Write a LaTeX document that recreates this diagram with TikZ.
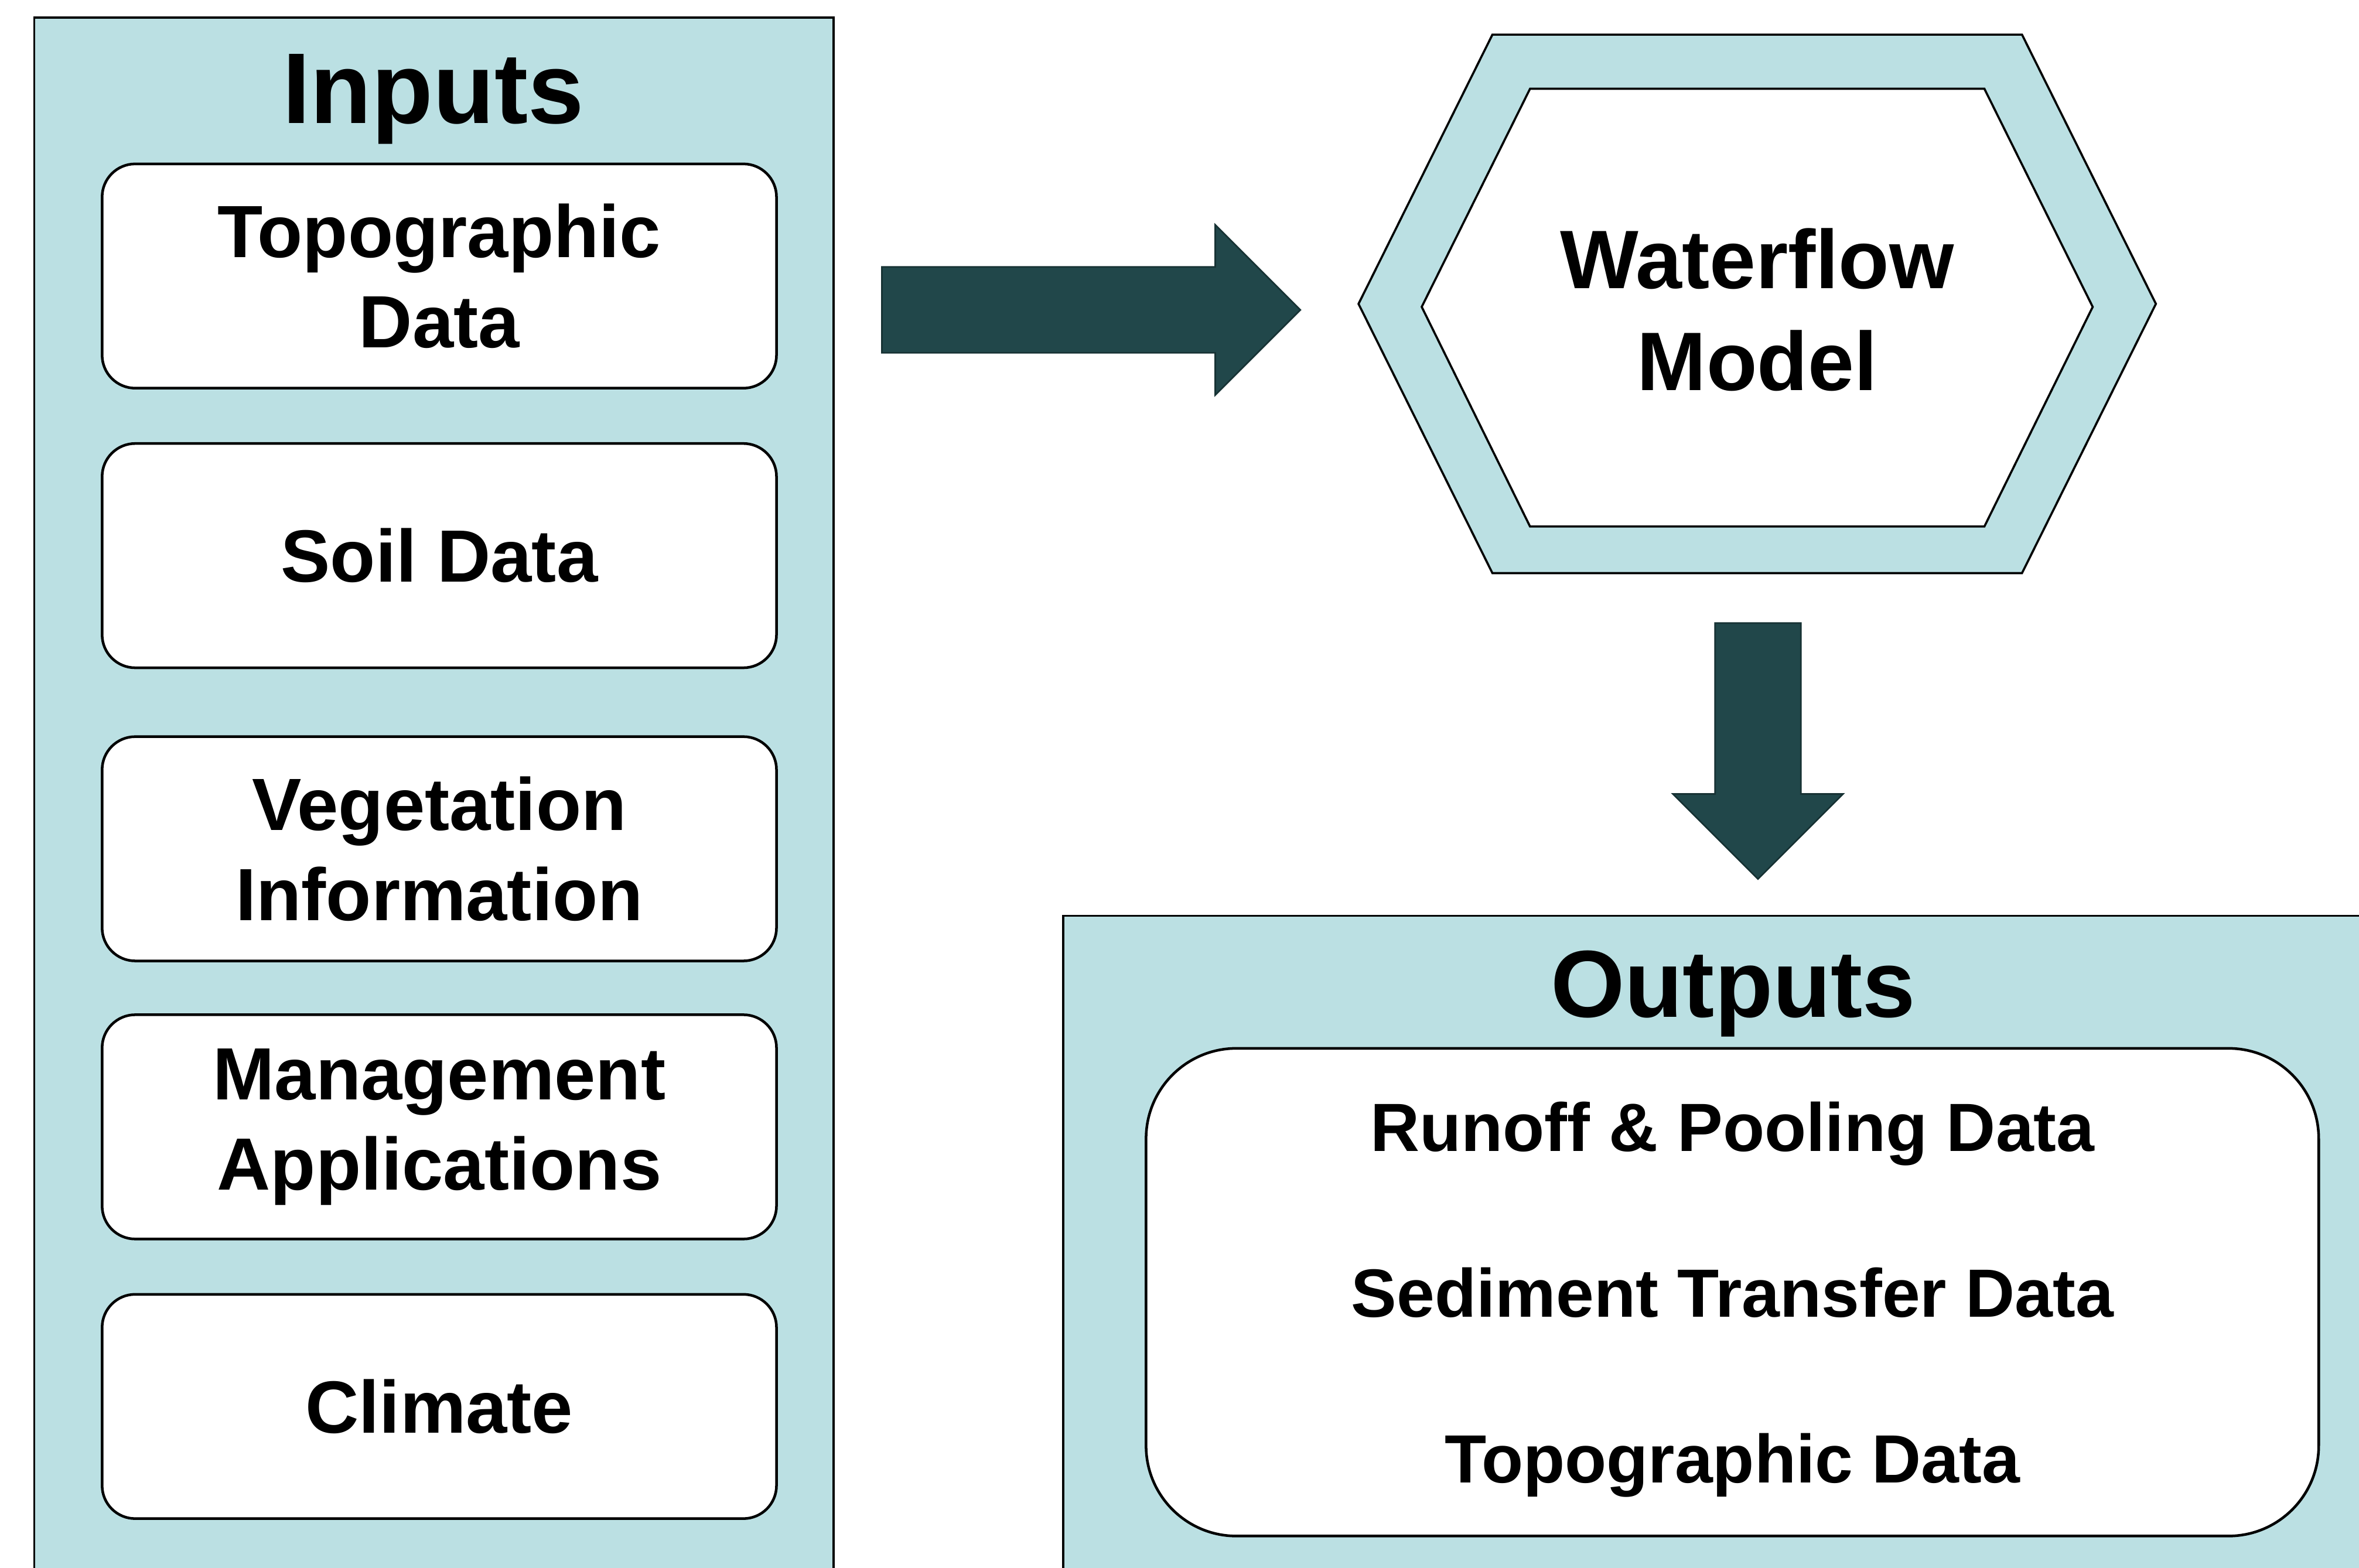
\documentclass[tikz,border=0pt]{standalone}
\usepackage{fontspec}
\setmainfont{Liberation Sans}
\usetikzlibrary{calc,positioning,shapes.arrows}
\definecolor{panelblue}{RGB}{187,224,227}
\definecolor{arrowteal}{RGB}{33,71,74}
\tikzset{
    flow diagram/.style = {x=0.01cm, y=0.01cm},
    panel/.style        = {draw, line width=0.4pt, fill=panelblue},
    heading/.style      = {anchor=base, inner sep=0pt,
                           font=\fontsize{19}{23}\selectfont\bfseries},
    inbox/.style        = {draw, line width=0.5pt, fill=white,
                           rounded corners=0.22cm, align=center,
                           minimum width=4.48cm, minimum height=1.49cm,
                           font=\fontsize{14}{17}\selectfont\bfseries},
    outbox/.style       = {inbox, rounded corners=0.6cm, text depth=0pt,
                           minimum width=7.79cm, minimum height=3.24cm,
                           font=\fontsize{12.9}{31.3}\selectfont\bfseries},
    bigarrow/.style     = {single arrow, fill=arrowteal,
                           draw=arrowteal!70!black, line width=0.3pt,
                           inner sep=0.28cm, single arrow head extend=0.28cm,
                           single arrow tip angle=90, minimum height=2.78cm},
    modeltext/.style    = {align=center,
                           font=\fontsize{15.7}{19.3}\selectfont\bfseries}
}

\begin{document}
\begin{tikzpicture}[flow diagram]

\clip (0,0) rectangle (1568,-1042);

% inputs column
\node[panel, anchor=north west, minimum width=5.31cm, minimum height=10.6cm]
    (inputs) at (22,-11) {};
\node[heading] (inputs title) at (288,-82) {Inputs};

\node[inbox] (topo) at (292,-183.5) {Topographic\\Data};
\node[inbox, below=0.35cm of topo] (soil) {Soil Data};
\node[inbox, below=0.44cm of soil] (veg) {Vegetation\\Information};
\node[inbox, below=0.34cm of veg] (mgmt) {Management\\Applications};
\node[inbox, below=0.35cm of mgmt] (climate) {Climate};

\node[bigarrow] (to model) at (711,-206) {};

% model
\coordinate (hexc) at (1168,-202);
\draw[panel, shift={(hexc)}]
    (-176,179) -- (176,179) -- (265,0) -- (176,-179)
    -- (-176,-179) -- (-265,0) -- cycle;
\draw[line width=0.4pt, fill=white, shift={(hexc)}]
    (-151,143) -- (151,143) -- (223,-2) -- (151,-148)
    -- (-151,-148) -- (-223,-2) -- cycle;
\node[modeltext] (model) at (1168,-206) {Waterflow\\Model};

\node[bigarrow, shape border rotate=270, minimum height=1.70cm]
    (to outputs) at (1168.5,-485) {};

% outputs
\node[panel, anchor=north west, minimum width=9.0cm, minimum height=4.5cm]
    (outputs) at (706,-608) {};
\node[heading, font=\fontsize{18}{22}\selectfont\bfseries]
    (outputs title) at (1152,-676) {Outputs};
\node[outbox] (results) at (1151.5,-859)
    {Runoff \& Pooling Data\\Sediment Transfer Data\\Topographic Data};

\end{tikzpicture}
\end{document}
